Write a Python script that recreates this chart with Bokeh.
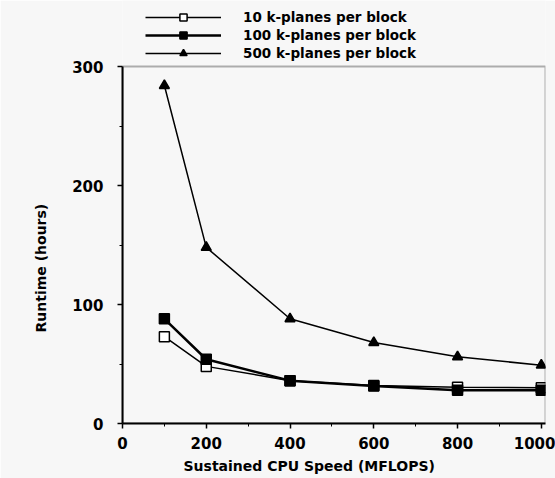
from bokeh.plotting import figure
from bokeh.models import Legend, LegendItem, Range1d, FixedTicker, BoxAnnotation, Title
from bokeh.embed import file_html
from bokeh.resources import INLINE

speed = [100, 200, 400, 600, 800, 1000]
k10 = [73, 48, 36, 32, 30.5, 30]
k100 = [88, 54, 36, 31.5, 28, 28]
k500 = [284, 148, 88, 68, 56, 49]
labels = ["10 k-planes per block", "100 k-planes per block", "500 k-planes per block"]
x_ticks = [0, 200, 400, 600, 800, 1000]
y_ticks = [0, 100, 200, 300]
x_title = "Sustained CPU Speed (MFLOPS)"
y_title = "Runtime (hours)"

BG = "#f7f7f7"
FONT = "DejaVu Sans"
X_MAX = 1010
Y_MAX = 300
FRAME_H = 423          # pixel height of the frame (top of canvas to x axis)
PLOT_TOP_PX = 66       # where the plot box top sits
y_top = Y_MAX * FRAME_H / (FRAME_H - PLOT_TOP_PX)

p = figure(width=555, height=478, output_backend="svg", toolbar_location=None,
           x_range=Range1d(0, X_MAX), y_range=Range1d(0, y_top),
           min_border_left=122, min_border_right=10, min_border_top=0, min_border_bottom=55)
p.background_fill_color = BG
p.border_fill_color = BG
p.outline_line_color = None
p.xgrid.visible = False
p.ygrid.visible = False

# plot box (frame of the data area 0..1010 x 0..300)
p.add_layout(BoxAnnotation(left=0, right=X_MAX, bottom=0, top=Y_MAX,
                           fill_alpha=0, line_color="black", line_width=2))

STYLES = [
    dict(marker="square", fill="white", lw=1.5),
    dict(marker="square", fill="black", lw=2.5),
    dict(marker="triangle", fill="black", lw=1.5),
]
items = []
for lab, ys, st in zip(labels, [k10, k100, k500], STYLES):
    ln = p.line(speed, ys, line_color="black", line_width=st["lw"])
    mk = p.scatter(speed, ys, marker=st["marker"], size=10, fill_color=st["fill"],
                   line_color="black", line_width=1.5)
    items.append(LegendItem(label=lab, renderers=[ln, mk]))

legend = Legend(items=items, location=(23, FRAME_H - 62))
legend.background_fill_alpha = 0
legend.border_line_alpha = 0
legend.glyph_width = 76
legend.glyph_height = 18
legend.label_height = 18
legend.spacing = 0
legend.padding = 0
legend.margin = 0
legend.label_standoff = 22
legend.label_text_font = FONT
legend.label_text_font_style = "bold"
legend.label_text_font_size = "13.5px"
legend.label_text_color = "black"
p.add_layout(legend, "center")

for ax in (p.xaxis[0], p.yaxis[0]):
    ax.axis_line_width = 2
    ax.major_tick_line_width = 1.5
    ax.major_tick_out = 5
    ax.major_tick_in = 0
    ax.minor_tick_out = 3
    ax.minor_tick_in = 0
    ax.major_label_text_font = FONT
    ax.major_label_text_font_style = "bold"
    ax.major_label_text_font_size = "15px"
    ax.major_label_text_color = "black"

p.yaxis[0].bounds = (0, Y_MAX)
p.xaxis[0].ticker = FixedTicker(ticks=x_ticks, minor_ticks=[100, 300, 500, 700, 900])
p.yaxis[0].ticker = FixedTicker(ticks=y_ticks, minor_ticks=[50, 150, 250])
p.xaxis[0].major_label_standoff = 8
p.yaxis[0].major_label_standoff = 14

p.add_layout(Title(text=x_title, align="left", offset=61, text_font=FONT,
                   text_font_style="bold", text_font_size="14px", text_color="black",
                   standoff=8), "below")
p.add_layout(Title(text=y_title, align="left", offset=91, text_font=FONT,
                   text_font_style="bold", text_font_size="14px", text_color="black",
                   standoff=41), "left")

open("out.html", "w").write(file_html(p, INLINE))
